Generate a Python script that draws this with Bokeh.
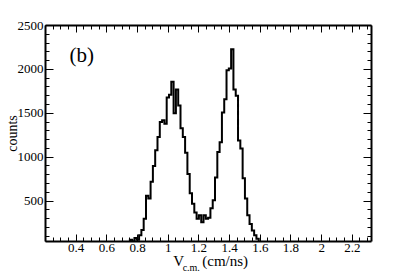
import numpy as np
from bokeh.plotting import figure
from bokeh.models import (FixedTicker, LinearAxis, NumeralTickFormatter, Label,
                          Range1d, CustomJSTickFormatter)
from bokeh.embed import file_html
from bokeh.resources import INLINE

# ---- data ----
bin_start = 0.705
bin_width = 0.015
counts = [0, 0, 20, 60, 40, 80, 60, 110, 170, 300,
          560, 530, 720, 900, 1080, 1230, 1400, 1420, 1380, 1680,
          1710, 1860, 1500, 1770, 1590, 1330, 1230, 1050, 810, 590,
          470, 370, 300, 340, 260, 340, 300, 310, 420, 510,
          770, 1060, 1170, 1510, 1660, 1990, 2010, 2230, 1770, 1700,
          1190, 1100, 760, 530, 340, 240, 165, 110, 70, 30,
          10, 0]

x_ticks = [0.4, 0.6, 0.8, 1.0, 1.2, 1.4, 1.6, 1.8, 2.0, 2.2]
x_minor = [0.2, 0.25, 0.3, 0.35, 0.45, 0.5, 0.55, 0.65, 0.7, 0.75, 0.85, 0.9, 0.95,
           1.05, 1.1, 1.15, 1.25, 1.3, 1.35, 1.45, 1.5, 1.55, 1.65, 1.7, 1.75,
           1.85, 1.9, 1.95, 2.05, 2.1, 2.15, 2.25, 2.3]
y_ticks = [500, 1000, 1500, 2000, 2500]
y_minor = [100, 200, 300, 400, 600, 700, 800, 900, 1100, 1200, 1300, 1400,
           1600, 1700, 1800, 1900, 2100, 2200, 2300, 2400]

x_label_main = "V"
x_label_sub = "c.m."
x_label_unit = "(cm/ns)"
y_label = "counts"
panel_tag = "(b)"

FONT = "Liberation Serif"

# layout anchors (text centres along the x axis, in axis units)
POS_MAIN = 1.068
POS_SUB = 1.150
POS_UNIT = 1.371

edges = np.round(bin_start + bin_width * np.arange(len(counts) + 1), 4)
ys = counts + [counts[-1]]

p = figure(width=405, height=276,
           x_range=Range1d(0.2, 2.325), y_range=Range1d(40, 2500),
           output_backend="svg", toolbar_location=None,
           min_border_left=45, min_border_right=34,
           min_border_top=25, min_border_bottom=35)
p.outline_line_color = None
p.xgrid.visible = False
p.ygrid.visible = False
p.background_fill_color = "white"
p.border_fill_color = "white"

p.step(x=edges, y=ys, mode="after", line_color="black", line_width=2,
       line_join="miter")


def style(ax, major, minor, show_labels=True):
    ax.axis_line_width = 2
    ax.axis_line_color = "black"
    ax.major_tick_in = major
    ax.major_tick_out = 0
    ax.minor_tick_in = minor
    ax.minor_tick_out = 0
    ax.major_tick_line_color = "black"
    ax.minor_tick_line_color = "black"
    ax.major_tick_line_width = 1
    ax.minor_tick_line_width = 1
    ax.major_label_text_font = FONT
    ax.major_label_text_font_size = "13px"
    ax.major_label_standoff = 2
    if show_labels:
        ax.major_label_text_color = "black"
    else:
        ax.major_label_text_color = None
        ax.major_label_standoff = 0


xa = p.xaxis[0]
xa.ticker = FixedTicker(ticks=x_ticks, minor_ticks=x_minor)
xa.formatter = NumeralTickFormatter(format="0.[0]")
style(xa, 7, 4)

ya = p.yaxis[0]
ya.ticker = FixedTicker(ticks=y_ticks, minor_ticks=y_minor)
ya.formatter = NumeralTickFormatter(format="0")
style(ya, 8, 4)
ya.axis_label = y_label
ya.axis_label_text_font = FONT
ya.axis_label_text_font_size = "14px"
ya.axis_label_text_font_style = "normal"
ya.axis_label_text_color = "black"
ya.axis_label_standoff = -5

top = LinearAxis(ticker=FixedTicker(ticks=x_ticks, minor_ticks=x_minor))
style(top, 7, 4, show_labels=False)
p.add_layout(top, "above")
right = LinearAxis(ticker=FixedTicker(ticks=y_ticks, minor_ticks=y_minor))
style(right, 8, 4, show_labels=False)
p.add_layout(right, "right")


def title_axis(positions, texts, size, standoff):
    ax = LinearAxis(ticker=FixedTicker(ticks=positions, minor_ticks=[]),
                    formatter=CustomJSTickFormatter(args=dict(labels=texts),
                                                    code="return labels[index];"))
    ax.axis_line_color = None
    ax.major_tick_line_color = None
    ax.minor_tick_line_color = None
    ax.major_tick_in = 0
    ax.major_tick_out = 0
    ax.minor_tick_in = 0
    ax.minor_tick_out = 0
    ax.major_label_text_font = FONT
    ax.major_label_text_font_size = size
    ax.major_label_text_color = "black"
    ax.major_label_standoff = standoff
    return ax


# x axis title "V_c.m. (cm/ns)" drawn as two label rows under the axis
p.add_layout(title_axis([POS_MAIN, POS_UNIT], [x_label_main, x_label_unit], "15px", -2), "below")
p.add_layout(title_axis([POS_SUB], [x_label_sub], "10px", -10), "below")

# panel tag
p.add_layout(Label(x=0.357, y=2160, text=panel_tag, text_font=FONT,
                   text_font_size="21px", text_color="black",
                   text_baseline="alphabetic"))

open("out.html", "w").write(file_html(p, INLINE))
